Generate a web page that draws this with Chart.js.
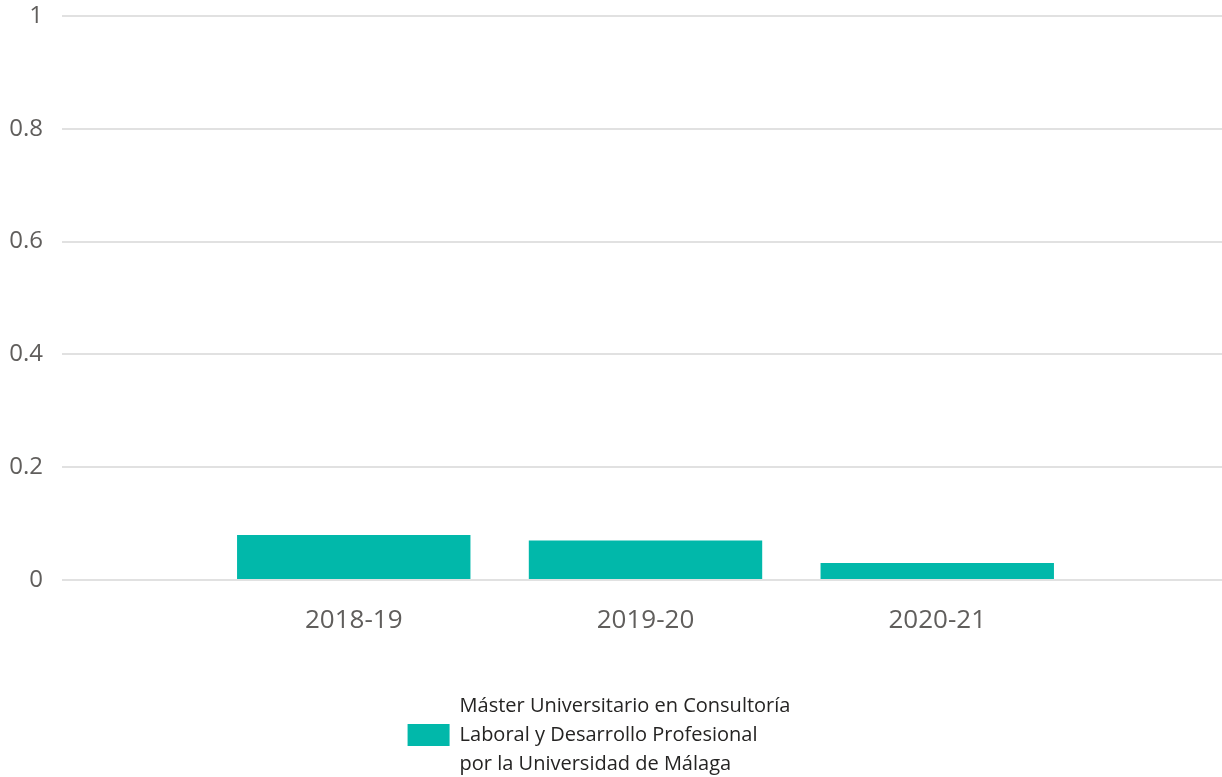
<!DOCTYPE html>
<html>
<head>
<meta charset="utf-8">
<script src="https://cdn.jsdelivr.net/npm/chart.js@4"></script>
<style>
  html, body { margin: 0; padding: 0; background: #fff; }
  #wrap { width: 1222px; height: 777px; }
</style>
</head>
<body>
<div id="wrap"><canvas id="barChart" width="1222" height="777"></canvas></div>
<script>
// Data
const categories = ['2018-19', '2019-20', '2020-21'];
const values = [0.08, 0.07, 0.03];
const seriesLabel = ['Máster Universitario en Consultoría', 'Laboral y Desarrollo Profesional', 'por la Universidad de Málaga'];
const yTicks = [0, 0.2, 0.4, 0.6, 0.8, 1];

const FONT = "'Segoe UI', 'Open Sans', sans-serif";
const BAR_COLOR = '#01B8AA';

// empty slot at each end so the bars sit one category width from the edges
const labels = [''].concat(categories, ['']);
const data = [null].concat(values, [null]);

// the plot area runs a few pixels past the right edge of the picture
const overflowRight = {
    id: 'overflowRight',
    afterLayout(chart) {
        const extra = 7;
        chart.chartArea.right += extra;
        chart.chartArea.width += extra;
        const x = chart.scales.x;
        x.right += extra;
        x.width += extra;
        x.configure();
    }
};

// Multi-line legend, box centred on the middle line
const legendPlugin = {
    id: 'wrappedLegend',
    afterDraw(chart) {
        const ctx = chart.ctx;
        const ds = chart.data.datasets[0];
        const lines = ds.label;
        ctx.save();
        ctx.font = '20px ' + FONT;
        const textW = Math.max(...lines.map(l => ctx.measureText(l).width));
        const boxW = 42, boxH = 22, gap = 10, lineH = 29;
        const total = boxW + gap + textW;
        const left = 599 - total / 2;
        const midY = chart.chartArea.bottom + 155;
        const firstY = midY - lineH * (lines.length - 1) / 2;
        ctx.fillStyle = ds.backgroundColor;
        ctx.fillRect(left, midY - boxH / 2, boxW, boxH);
        ctx.fillStyle = '#252423';
        ctx.textBaseline = 'middle';
        ctx.textAlign = 'left';
        lines.forEach((l, i) => ctx.fillText(l, left + boxW + gap, firstY + i * lineH));
        ctx.restore();
    }
};

const ctx = document.getElementById('barChart').getContext('2d');
const barChart = new Chart(ctx, {
    type: 'bar',
    data: {
        labels: labels,
        datasets: [{
            label: seriesLabel,
            data: data,
            backgroundColor: BAR_COLOR,
            borderWidth: 0,
            categoryPercentage: 0.8,
            barPercentage: 1
        }]
    },
    options: {
        responsive: false,
        animation: false,
        layout: { padding: { top: 16, right: 0, bottom: 107, left: 0 } },
        scales: {
            x: {
                offset: false,
                grid: { display: false, drawTicks: false },
                border: { display: false },
                ticks: {
                    color: '#605e5c',
                    font: { size: 26, family: FONT },
                    padding: 25,
                    maxRotation: 0,
                    autoSkip: false
                },
                afterFit(scale) {
                    scale.height = 90;
                    scale.paddingLeft = 0;
                    scale.paddingRight = 0;
                }
            },
            y: {
                min: 0,
                max: 1,
                afterBuildTicks(scale) { scale.ticks = yTicks.map(v => ({ value: v })); },
                grid: { color: '#e1e1e1', lineWidth: 2, drawTicks: false },
                border: { display: false },
                ticks: {
                    color: '#605e5c',
                    font: { size: 24, family: FONT },
                    padding: 19,
                    callback: v => String(v)
                },
                afterFit(scale) {
                    scale.width = 62;
                    scale.paddingTop = 0;
                    scale.paddingBottom = 0;
                }
            }
        },
        plugins: {
            legend: { display: false },
            tooltip: { enabled: false }
        }
    },
    plugins: [overflowRight, legendPlugin]
});
</script>
</body>
</html>
